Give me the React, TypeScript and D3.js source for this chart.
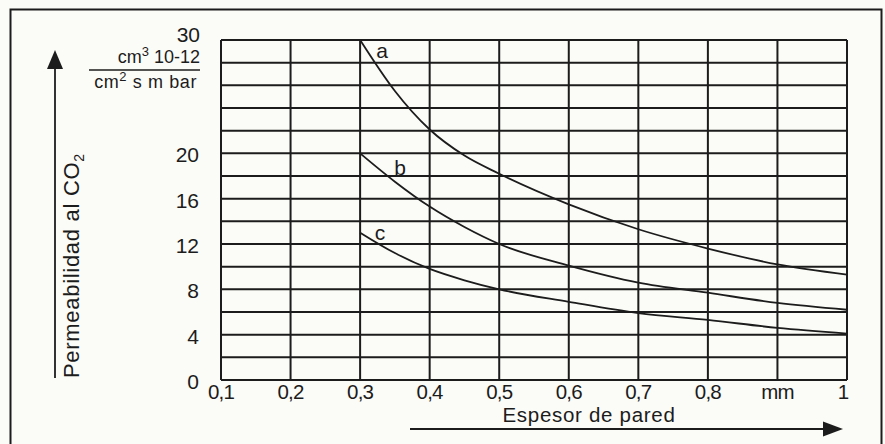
import React from "react";
import * as d3 from "d3";

const thickness = [0.3, 0.35, 0.4, 0.45, 0.5, 0.6, 0.7, 0.8, 0.9, 1.0];
const seriesA = [30, 25.5, 22.1, 19.8, 18.2, 15.5, 13.3, 11.6, 10.2, 9.3];
const seriesB = [20, 17.5, 15.3, 13.5, 12.0, 10.1, 8.6, 7.7, 6.8, 6.2];
const seriesC = [13, 11.2, 9.8, 8.8, 8.0, 6.9, 5.9, 5.3, 4.6, 4.1];
const seriesNames = ["a", "b", "c"];
const xTicks = [0.1, 0.2, 0.3, 0.4, 0.5, 0.6, 0.7, 0.8, 0.9, 1.0];
const xTickLabels = ["0,1", "0,2", "0,3", "0,4", "0,5", "0,6", "0,7", "0,8", "mm", "1"];
const yGrid = d3.range(0, 31, 2);
const yTicks = [0, 4, 8, 12, 16, 20];
const yTopTick = 30;

const W = 885;
const H = 444;
const INK = "#1c1c1c";
const FONT = "'Liberation Sans', Arial, Helvetica, sans-serif";

export default function App() {
  const x = d3.scaleLinear().domain([0.1, 1.0]).range([221, 847]);
  const y = d3.scaleLinear().domain([0, 30]).range([380, 40]);
  const line = d3
    .line<[number, number]>()
    .x((d) => x(d[0]))
    .y((d) => y(d[1]))
    .curve(d3.curveMonotoneX);
  const series = [seriesA, seriesB, seriesC];
  const labelPos = [
    { dx: 22, dy: 18 },
    { dx: 40, dy: 22 },
    { dx: 20, dy: 7 },
  ];

  return (
    <svg
      width={W}
      height={H}
      style={{ position: "absolute", left: 0, top: 0, background: "#fbfbf7" }}
      fontFamily={FONT}
    >
      <rect x={0} y={0} width={W} height={H} fill="#fbfbf7" />
      {/* frame */}
      <path d={`M10.5,${H + 5} V9.5 H881.5 V${H + 5}`} fill="none" stroke={INK} strokeWidth={2} />

      {/* grid */}
      {yGrid.map((v) => (
        <line key={"h" + v} x1={x(0.1)} x2={x(1.0)} y1={y(v)} y2={y(v)} stroke={INK} strokeWidth={2} />
      ))}
      {xTicks.map((v) => (
        <line key={"v" + v} x1={x(v)} x2={x(v)} y1={y(0)} y2={y(30)} stroke={INK} strokeWidth={2} />
      ))}

      {/* curves */}
      {series.map((s, i) => (
        <path
          key={"s" + i}
          d={line(thickness.map((t, j) => [t, s[j]] as [number, number])) || ""}
          fill="none"
          stroke={INK}
          strokeWidth={1.8}
        />
      ))}
      {series.map((s, i) => (
        <text
          key={"l" + i}
          x={x(thickness[0]) + labelPos[i].dx}
          y={y(s[0]) + labelPos[i].dy}
          fontSize={21}
          fill={INK}
          textAnchor="middle"
        >
          {seriesNames[i]}
        </text>
      ))}

      {/* y tick labels */}
      {yTicks.map((v) => (
        <text key={"yt" + v} x={199} y={y(v) + 9} fontSize={21} textAnchor="end" fill={INK}>
          {v}
        </text>
      ))}
      <text x={200} y={y(yTopTick) + 2} fontSize={21} textAnchor="end" fill={INK}>
        {yTopTick}
      </text>

      {/* unit fraction */}
      <text x={200} y={63} fontSize={18} textAnchor="end" fill={INK}>
        cm<tspan dy={-7} fontSize={13}>3</tspan>
        <tspan dy={7}> 10-12</tspan>
      </text>
      <line x1={89} x2={200} y1={70} y2={70} stroke={INK} strokeWidth={1.5} />
      <text x={197} y={88} fontSize={18} textAnchor="end" fill={INK} letterSpacing={0.6}>
        cm<tspan dy={-7} fontSize={13}>2</tspan>
        <tspan dy={7}> s m bar</tspan>
      </text>

      {/* x tick labels */}
      {xTicks.map((v, i) => (
        <text
          key={"xt" + v}
          x={x(v) - (i === xTicks.length - 1 ? 4 : 0)}
          y={399}
          fontSize={20.5}
          textAnchor="middle"
          fill={INK}
          letterSpacing={-0.8}
        >
          {xTickLabels[i]}
        </text>
      ))}

      {/* x axis title and arrow */}
      <text x={589} y={422} fontSize={20.5} textAnchor="middle" fill={INK} letterSpacing={0.7}>
        Espesor de pared
      </text>
      <line x1={410} x2={828} y1={429} y2={429} stroke={INK} strokeWidth={1.8} />
      <path d="M823,421.5 L843,429 L823,436.5 Z" fill={INK} />

      {/* y axis title and arrow */}
      <line x1={55} x2={55} y1={378} y2={64} stroke={INK} strokeWidth={1.8} />
      <path d="M47,69 L55,50 L63,69 Z" fill={INK} />
      <text transform="translate(79,378) rotate(-90)" fontSize={22} textAnchor="start" fill={INK} letterSpacing={0.7}>
        Permeabilidad al CO<tspan dy={5} fontSize={14}>2</tspan>
      </text>
    </svg>
  );
}
